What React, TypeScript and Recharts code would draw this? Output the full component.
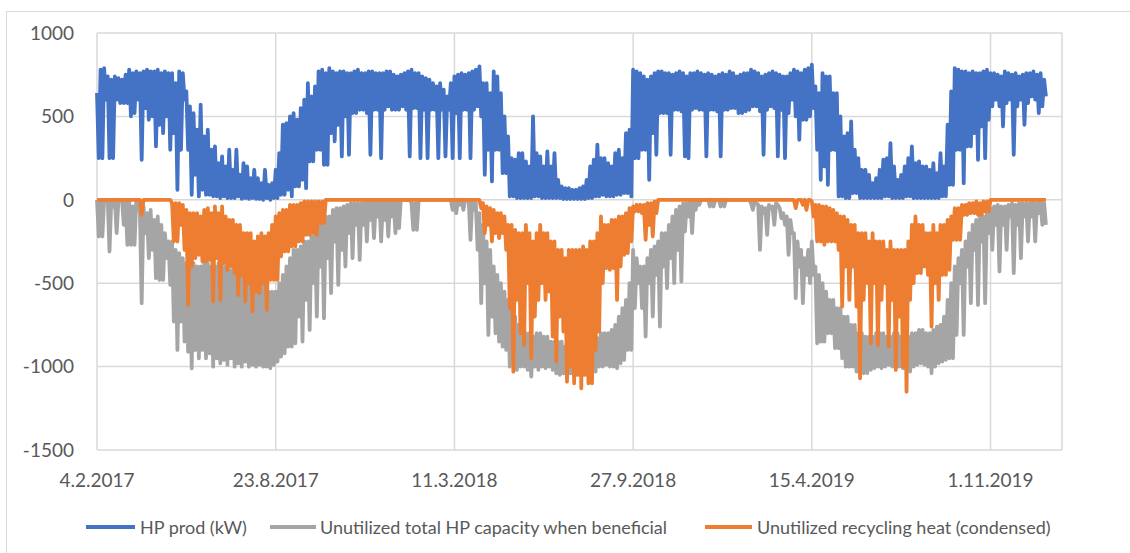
import React from "react";
import { LineChart, Line, XAxis, YAxis, CartesianGrid } from "recharts";

const WINDOW_DAYS = 4;

const xTickDays = [0, 200, 400, 600, 800, 1000];
const xTickLabels = ["4.2.2017", "23.8.2017", "11.3.2018", "27.9.2018", "15.4.2019", "1.11.2019"];
const yTicks = [-1500, -1000, -500, 0, 500, 1000];

const seriesNames = [
  "HP prod (kW)",
  "Unutilized total HP capacity when beneficial",
  "Unutilized recycling heat (condensed)",
];
const seriesColors = ["#4472c4", "#a5a5a5", "#ed7d31"];

// HP prod (kW): window maxima
const hpProdHigh = [
  640, 780, 790, 740, 720, 740, 730, 720, 750, 780,
  760, 770, 760, 770, 780, 770, 770, 780, 760, 770,
  760, 760, 700, 770, 760, 650, 560, 520, 420, 570,
  380, 420, 300, 320, 220, 260, 200, 300, 180, 300,
  150, 220, 200, 130, 180, 130, 100, 180, 90, 100,
  180, 280, 450, 460, 500, 520, 480, 550, 600, 700,
  620, 680, 770, 780, 760, 790, 770, 760, 770, 770,
  760, 760, 770, 780, 760, 760, 770, 770, 760, 760,
  760, 770, 770, 750, 740, 750, 760, 770, 780, 760,
  760, 740, 730, 720, 700, 680, 700, 660, 620, 700,
  740, 750, 760, 750, 760, 770, 780, 800, 700, 700,
  640, 770, 740, 640, 500, 380, 250, 240, 280, 280,
  230, 200, 500, 280, 260, 200, 290, 200, 280, 120,
  80, 70, 70, 60, 60, 70, 80, 120, 200, 240,
  330, 250, 250, 220, 200, 280, 300, 250, 400, 420,
  780, 770, 760, 740, 720, 740, 760, 770, 770, 760,
  760, 750, 760, 770, 760, 740, 760, 760, 770, 760,
  750, 760, 750, 740, 750, 760, 750, 770, 760, 740,
  750, 760, 760, 780, 770, 760, 740, 750, 760, 770,
  760, 750, 740, 740, 760, 780, 770, 760, 780, 790,
  810, 680, 640, 760, 740, 740, 640, 640, 500, 380,
  400, 470, 300, 250, 180, 180, 150, 100, 130, 180,
  240, 250, 340, 200, 120, 150, 200, 250, 320, 220,
  230, 200, 200, 180, 220, 160, 280, 200, 450, 650,
  790, 780, 770, 770, 760, 770, 760, 760, 770, 780,
  760, 760, 750, 740, 770, 760, 750, 760, 740, 750,
  760, 760, 770, 750, 760, 720,
];
// HP prod (kW): window minima
const hpProdLow = [
  250, 250, 600, 250, 250, 600, 580, 580, 580, 500,
  520, 600, 240, 550, 480, 500, 320, 450, 400, 500,
  300, 400, 60, 300, 600, 300, 30, 150, 20, 60,
  30, 30, 20, 20, 10, 20, 10, 10, 10, 20,
  5, 10, 5, 10, 5, 5, 0, 10, 0, 10,
  10, 30, 30, 60, 20, 80, 80, 120, 70, 230,
  230, 300, 300, 210, 210, 400, 350, 450, 260, 500,
  270, 520, 520, 540, 540, 520, 270, 540, 540, 250,
  540, 560, 540, 540, 540, 560, 540, 260, 550, 550,
  250, 540, 250, 540, 540, 250, 540, 260, 540, 250,
  520, 250, 540, 540, 250, 540, 560, 500, 150, 300,
  110, 300, 300, 160, 160, 20, 20, 10, 10, 10,
  10, 10, 20, 20, 10, 10, 10, 10, 10, 10,
  5, 5, 5, 5, 5, 5, 5, 10, 10, 20,
  20, 30, 20, 20, 20, 30, 30, 40, 40, 20,
  250, 250, 300, 300, 120, 400, 270, 520, 520, 520,
  270, 540, 540, 530, 260, 250, 540, 550, 540, 540,
  260, 540, 540, 530, 260, 540, 540, 550, 550, 520,
  520, 530, 540, 560, 560, 530, 270, 540, 560, 550,
  260, 540, 250, 520, 600, 500, 360, 480, 480, 500,
  550, 300, 120, 200, 90, 300, 300, 20, 20, 10,
  10, 40, 40, 10, 10, 10, 10, 10, 10, 10,
  20, 20, 10, 10, 10, 10, 20, 20, 10, 10,
  10, 10, 10, 10, 10, 10, 20, 20, 90, 90,
  300, 300, 100, 320, 320, 400, 240, 440, 250, 480,
  560, 600, 560, 440, 580, 600, 270, 560, 600, 450,
  580, 620, 600, 520, 560, 620,
];

// Unutilized total HP capacity when beneficial: value nearest zero per window
const hpCapHigh = [
  0, 0, 0, 0, 0, 0, 0, 0, 0, 0,
  -40, 0, -60, -40, -80, -60, -120, -100, -150, -200,
  -250, -250, -300, -320, -350, -380, -400, -380, -400, -400,
  -380, -380, -400, -400, -380, -400, -400, -420, -420, -420,
  -420, -420, -450, -450, -460, -480, -500, -500, -550, -550,
  -550, -500, -450, -400, -350, -300, -300, -280, -250, -250,
  -220, -200, -150, -120, -100, -100, -60, -50, -50, -40,
  -30, -20, -20, -20, -20, -10, -10, -10, -10, -10,
  -10, -10, -10, -10, 0, 0, 0, 0, -20, -20,
  0, 0, 0, 0, 0, 0, 0, 0, 0, 0,
  0, 0, 0, 0, 0, 0, -20, -80, -150, -250,
  -300, -400, -450, -500, -550, -600, -650, -700, -750, -750,
  -800, -800, -820, -800, -800, -820, -820, -850, -850, -850,
  -850, -880, -880, -880, -880, -880, -850, -850, -850, -830,
  -830, -800, -800, -800, -780, -750, -700, -650, -600, -500,
  -300, -350, -400, -400, -350, -300, -280, -250, -200, -200,
  -150, -100, -60, -40, -20, -20, 0, 0, 0, 0,
  0, 0, 0, 0, 0, 0, 0, 0, 0, 0,
  0, 0, 0, -20, -10, -30, -40, -50, -30, -40,
  -20, -50, -80, -100, -120, -200, -250, -300, -350, -300,
  -250, -400, -450, -500, -550, -600, -600, -650, -650, -700,
  -700, -750, -750, -800, -800, -820, -820, -820, -800, -800,
  -800, -820, -820, -800, -800, -820, -820, -820, -800, -800,
  -780, -780, -800, -800, -780, -760, -750, -700, -600, -500,
  -400, -350, -300, -250, -200, -150, -120, -100, -100, -80,
  -50, -40, -30, -40, -40, -30, -20, -30, -20, -20,
  -20, -20, -10, -20, -10, -20,
];
// Unutilized total HP capacity when beneficial: deepest value per window
const hpCapLow = [
  -220, -220, 0, -310, -40, -200, 0, -150, -270, -270,
  -270, -60, -620, -200, -350, -300, -470, -480, -480, -350,
  -510, -730, -900, -730, -850, -910, -1010, -900, -950, -900,
  -950, -920, -1000, -950, -980, -960, -990, -950, -1000, -980,
  -1000, -970, -1000, -990, -1000, -990, -1000, -1000, -1010, -990,
  -970, -940, -920, -880, -880, -860, -700, -850, -600, -780,
  -500, -700, -400, -710, -350, -560, -250, -510, -300, -400,
  -200, -350, -150, -360, -150, -250, -120, -230, -100, -250,
  -120, -220, -100, -200, -170, 0, 0, 0, -180, -180,
  0, 0, 0, 0, 0, 0, 0, 0, 0, -60,
  -80, -30, -60, 0, -240, -60, -300, -620, -500, -810,
  -700, -800, -850, -880, -900, -1000, -960, -1020, -1000, -1000,
  -1020, -1060, -1000, -1020, -1000, -1010, -1000, -1020, -1040, -1050,
  -1040, -1060, -1040, -1050, -1040, -1040, -1020, -1030, -1020, -1030,
  -1000, -1000, -990, -1000, -1000, -1010, -980, -960, -900, -900,
  -650, -500, -650, -820, -500, -700, -450, -760, -400, -530,
  -350, -500, -300, -490, -190, -100, -200, -60, -30, 0,
  0, -40, -40, 0, -40, -40, 0, 0, 0, 0,
  0, 0, 0, -60, -20, -300, -80, -210, -50, -150,
  -30, -110, -150, -330, -200, -590, -400, -620, -450, -500,
  -450, -860, -850, -850, -800, -800, -890, -890, -950, -1000,
  -1000, -1000, -1030, -1050, -1040, -1040, -1020, -1010, -1000, -1010,
  -1000, -990, -1000, -1000, -1000, -1010, -1020, -1030, -1000, -990,
  -980, -990, -1000, -1040, -1000, -980, -970, -960, -950, -950,
  -810, -500, -810, -400, -620, -300, -630, -250, -620, -200,
  -300, -150, -430, -150, -300, -100, -440, -150, -350, -100,
  -250, -100, -250, -80, -150, -150,
];

// Unutilized recycling heat (condensed): value nearest zero per window
const recycleHigh = [
  0, 0, 0, 0, 0, 0, 0, 0, 0, 0,
  0, 0, 0, 0, 0, 0, 0, 0, 0, 0,
  0, -20, -20, -20, -30, -60, -80, -80, -80, -100,
  -60, -50, -80, -40, -80, -40, -100, -120, -120, -150,
  -150, -200, -200, -200, -250, -220, -200, -220, -200, -150,
  -100, -80, -60, -60, -30, -30, -30, -20, -10, -10,
  -10, -10, -10, -10, 0, 0, 0, 0, 0, 0,
  0, 0, 0, 0, 0, 0, 0, 0, 0, 0,
  0, 0, 0, 0, 0, 0, 0, 0, 0, 0,
  0, 0, 0, 0, 0, 0, 0, 0, 0, 0,
  0, 0, 0, 0, 0, 0, 0, 0, -20, -40,
  -50, -60, -80, -80, -100, -150, -150, -180, -200, -200,
  -150, -200, -250, -200, -150, -200, -200, -250, -250, -300,
  -300, -350, -300, -300, -300, -300, -280, -300, -250, -250,
  -200, -100, -150, -150, -120, -120, -100, -100, -80, -50,
  -40, -30, -30, -30, -20, -20, -10, 0, 0, 0,
  0, 0, 0, 0, 0, 0, 0, 0, 0, 0,
  0, 0, 0, 0, 0, 0, 0, 0, 0, 0,
  0, 0, 0, 0, 0, 0, 0, 0, 0, 0,
  0, 0, 0, 0, 0, 0, 0, 0, 0, 0,
  -10, -30, -30, -40, -40, -50, -60, -80, -100, -100,
  -120, -150, -150, -200, -200, -200, -250, -200, -250, -250,
  -250, -300, -250, -300, -300, -300, -300, -250, -150, -100,
  -150, -150, -200, -200, -150, -200, -150, -150, -120, -100,
  -50, -50, -30, -30, -20, -20, -10, -20, -10, -10,
  0, 0, 0, 0, 0, 0, 0, 0, 0, 0,
  0, 0, 0, 0, 0, 0,
];
// Unutilized recycling heat (condensed): deepest value per window
const recycleLow = [
  0, 0, 0, 0, 0, 0, 0, 0, 0, 0,
  0, 0, -90, 0, 0, 0, 0, 0, 0, 0,
  0, -250, -250, -150, -300, -630, -400, -350, -330, -370,
  -370, -360, -610, -350, -600, -380, -420, -400, -440, -570,
  -450, -610, -500, -670, -550, -560, -500, -660, -480, -480,
  -480, -340, -310, -310, -280, -280, -250, -250, -210, -210,
  -200, -210, -140, -140, 0, 0, 0, 0, 0, 0,
  0, 0, 0, 0, 0, 0, 0, 0, 0, 0,
  0, 0, 0, 0, 0, 0, 0, 0, 0, 0,
  0, 0, 0, 0, 0, 0, 0, 0, 0, 0,
  0, 0, 0, 0, 0, 0, 0, -50, -200, -150,
  -250, -200, -230, -200, -300, -650, -1030, -600, -800, -870,
  -500, -950, -700, -600, -500, -600, -550, -820, -970, -700,
  -790, -1090, -1000, -1100, -1050, -1130, -1050, -1100, -1100, -900,
  -790, -500, -410, -420, -410, -600, -400, -330, -320, -250,
  -70, -70, -80, -240, -150, -220, -80, 0, 0, 0,
  0, 0, 0, 0, 0, 0, 0, 0, 0, 0,
  0, 0, 0, 0, 0, 0, 0, 0, 0, 0,
  0, 0, 0, 0, 0, 0, 0, 0, 0, 0,
  0, 0, 0, 0, 0, -50, 0, -30, -60, 0,
  -100, -250, -250, -270, -250, -250, -250, -300, -640, -400,
  -600, -400, -640, -1070, -600, -500, -860, -500, -870, -600,
  -500, -880, -600, -1020, -700, -1000, -1150, -600, -500, -440,
  -440, -400, -450, -760, -500, -600, -450, -450, -420, -240,
  -240, -240, -90, -90, -80, -80, -90, -90, -70, -70,
  0, 0, 0, 0, 0, 0, 0, 0, 0, 0,
  0, 0, 0, 0, 0, 0,
];

// Table for the chart: each window contributes its high point, then its low point.
const data: { d: number; hp: number; cap: number; rec: number }[] = [];
hpProdHigh.forEach((_, i) => {
  data.push({ d: i * WINDOW_DAYS, hp: hpProdHigh[i], cap: hpCapHigh[i], rec: recycleHigh[i] });
  data.push({
    d: i * WINDOW_DAYS + WINDOW_DAYS / 2,
    hp: hpProdLow[i],
    cap: hpCapLow[i],
    rec: recycleLow[i],
  });
});

const FONT = "Lato, 'Open Sans', sans-serif";
const TEXT_COLOR = "#595959";
const GRID = "#d9d9d9";
const LINE_W = 3.8;

const legendItems = [
  { lineLeft: 86, lineWidth: 49, textLeft: 140 },
  { lineLeft: 270, lineWidth: 46, textLeft: 320 },
  { lineLeft: 705, lineWidth: 47, textLeft: 757 },
];

export default function App() {
  return (
    <div
      style={{
        position: "absolute",
        left: 0,
        top: 0,
        width: 1130,
        height: 553,
        overflow: "hidden",
        background: "#ffffff",
        fontFamily: FONT,
      }}
    >
      <div
        style={{
          position: "absolute",
          left: 6,
          top: 11,
          width: 1140,
          height: 570,
          border: `1.5px solid ${GRID}`,
          boxSizing: "border-box",
        }}
      />
      <div style={{ position: "absolute", left: 0, top: 0 }}>
        <LineChart
          width={1130}
          height={553}
          data={data}
          margin={{ top: 33, right: 68, left: 0, bottom: 0 }}
        >
          <CartesianGrid stroke={GRID} strokeWidth={1.5} />
          <XAxis
            dataKey="d"
            type="number"
            domain={[0, 1080]}
            ticks={xTickDays}
            tickFormatter={(v: number) => xTickLabels[xTickDays.indexOf(v)] ?? ""}
            axisLine={false}
            tickLine={false}
            tickSize={0}
            tickMargin={24}
            height={103}
            interval={0}
            tick={{ fill: TEXT_COLOR, fontSize: 19, fontFamily: FONT }}
          />
          <YAxis
            type="number"
            domain={[-1500, 1000]}
            ticks={yTicks}
            axisLine={false}
            tickLine={false}
            tickSize={0}
            tickMargin={23}
            width={97}
            interval={0}
            tick={{ fill: TEXT_COLOR, fontSize: 19, fontFamily: FONT }}
          />
          <Line
            dataKey="hp"
            name={seriesNames[0]}
            stroke={seriesColors[0]}
            strokeWidth={LINE_W}
            dot={false}
            type="linear"
            strokeLinejoin="round"
            isAnimationActive={false}
          />
          <Line
            dataKey="cap"
            name={seriesNames[1]}
            stroke={seriesColors[1]}
            strokeWidth={LINE_W}
            dot={false}
            type="linear"
            strokeLinejoin="round"
            isAnimationActive={false}
          />
          <Line
            dataKey="rec"
            name={seriesNames[2]}
            stroke={seriesColors[2]}
            strokeWidth={LINE_W}
            dot={false}
            type="linear"
            strokeLinejoin="round"
            isAnimationActive={false}
          />
        </LineChart>
      </div>
      {legendItems.map((it, k) => (
        <React.Fragment key={k}>
          <div
            style={{
              position: "absolute",
              left: it.lineLeft,
              top: 525,
              width: it.lineWidth,
              height: 3.5,
              background: seriesColors[k],
            }}
          />
          <div
            style={{
              position: "absolute",
              left: it.textLeft,
              top: 515,
              height: 24,
              lineHeight: "24px",
              fontSize: 18,
              color: TEXT_COLOR,
              whiteSpace: "nowrap",
            }}
          >
            {seriesNames[k]}
          </div>
        </React.Fragment>
      ))}
    </div>
  );
}
